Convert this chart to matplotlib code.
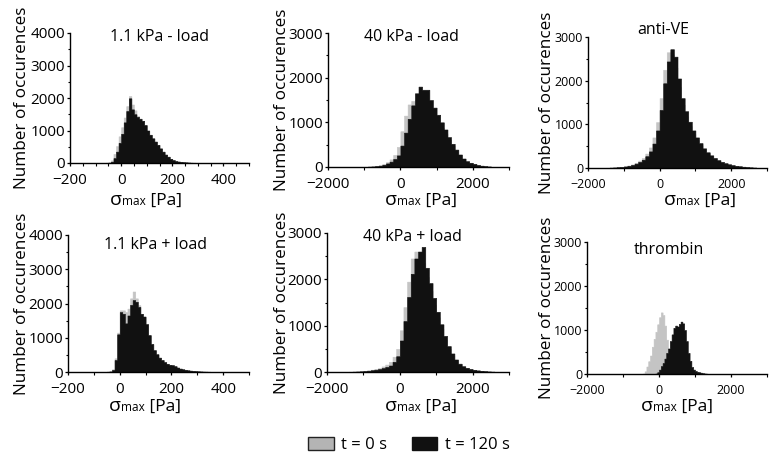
import numpy as np
import matplotlib
matplotlib.use("Agg")
import matplotlib.pyplot as plt
from matplotlib.patches import Patch
from matplotlib.offsetbox import TextArea, HPacker, AnchoredOffsetbox
from matplotlib.ticker import MultipleLocator

plt.rcParams['font.family'] = ['Open Sans', 'DejaVu Sans']

W, H = 776, 463
GRAY = '#c4c4c4'
BLACK = '#111111'

# ---- data: histogram counts (t = 0 s gray, t = 120 s black) ----
titles = ["1.1 kPa - load", "40 kPa - load", "anti-VE",
          "1.1 kPa + load", "40 kPa + load", "thrombin"]

# 1.1 kPa - load : bins of 10 Pa starting at -60 Pa
edges1_start, edges1_step = -60, 10
black1 = [5, 10, 40, 150, 350, 620, 900, 1250, 1600, 1990, 1650, 1500, 1420, 1360, 1300, 1170,
          1000, 870, 760, 660, 560, 450, 350, 260, 195, 130, 90, 60, 45, 35, 25, 20, 15, 10, 8, 5]
gray1 = [10, 20, 80, 280, 520, 820, 1100, 1400, 1750, 2060, 1800, 1620, 1450, 1370, 1290, 1150,
         980, 850, 740, 640, 540, 430, 330, 245, 180, 120, 85, 55, 42, 32, 22, 18, 13, 9, 7, 4]

# 40 kPa - load : bins of 100 Pa starting at -1000 Pa
edges2_start, edges2_step = -1000, 100
black2 = [5, 8, 12, 20, 30, 50, 80, 120, 180, 260, 480, 770, 1080, 1380, 1650, 1800, 1730, 1730,
          1500, 1330, 1170, 1000, 840, 670, 520, 390, 280, 190, 130, 95, 70, 45, 30, 20, 12]
gray2 = [5, 10, 15, 25, 40, 70, 110, 170, 270, 450, 800, 1150, 1400, 1480, 1500, 1450, 1380, 1300,
         1200, 1100, 1000, 880, 750, 610, 480, 360, 260, 180, 120, 90, 65, 42, 28, 18, 10]

# anti-VE : bins of 100 Pa starting at -1500 Pa
edges3_start, edges3_step = -1500, 100
black3 = [5, 8, 12, 18, 25, 35, 50, 70, 100, 140, 190, 270, 380, 560, 860, 1330, 1940, 2440, 2720,
          2550, 2050, 1600, 1300, 1060, 860, 700, 570, 450, 360, 290, 230, 180, 140, 110, 85, 65,
          50, 40, 30, 22, 15, 10]
gray3 = [6, 9, 14, 20, 28, 40, 58, 82, 120, 170, 230, 330, 470, 700, 1050, 1600, 2250, 2650, 2600,
         2300, 1850, 1450, 1180, 960, 780, 640, 520, 410, 330, 265, 210, 165, 128, 100, 78, 60,
         46, 36, 27, 20, 14, 9]

# 1.1 kPa + load : bins of 10 Pa starting at -60 Pa
edges4_start, edges4_step = -60, 10
black4 = [5, 8, 15, 60, 350, 1100, 1750, 1700, 1420, 1650, 1960, 2100, 2050, 1900, 1700, 1620,
          1400, 1080, 820, 640, 520, 420, 350, 290, 240, 210, 200, 170, 130, 100, 80, 65, 50, 40,
          32, 25, 20, 16, 12, 10, 8, 6, 5, 4, 3, 2]
gray4 = [6, 10, 20, 80, 400, 1150, 1800, 1800, 1750, 1850, 2150, 2350, 2150, 1950, 1690, 1600,
         1380, 1060, 800, 625, 505, 410, 340, 280, 232, 205, 192, 162, 124, 96, 76, 62, 48, 38,
         30, 24, 19, 15, 11, 9, 7, 5, 4, 3, 2, 1]

# 40 kPa + load : bins of 100 Pa starting at -1500 Pa
edges5_start, edges5_step = -1500, 100
black5 = [3, 5, 7, 10, 14, 20, 28, 38, 50, 65, 85, 110, 140, 220, 340, 680, 1100, 1620, 2120, 2450,
          2600, 2700, 2250, 1920, 1600, 1300, 1030, 780, 560, 400, 270, 180, 125, 90, 65, 48, 35,
          26, 18, 12, 8, 5]
gray5 = [4, 6, 9, 13, 18, 26, 36, 50, 66, 86, 120, 160, 220, 330, 500, 900, 1400, 1950, 2450, 2600,
         2550, 2350, 2050, 1750, 1450, 1180, 930, 700, 500, 350, 240, 160, 110, 80, 58, 42, 30,
         22, 15, 10, 6, 4]

# thrombin : bins of 50 Pa (gray from -500 Pa, black from -100 Pa)
gray6_start, gray6_step = -500, 50
gray6 = [3, 10, 60, 170, 290, 420, 620, 800, 960, 1130, 1290, 1400, 1340, 1100, 780, 480, 250,
         110, 50, 20, 10, 5]
black6_start, black6_step = -100, 50
black6 = [10, 40, 100, 180, 250, 350, 480, 580, 750, 900, 1050, 1100, 1080, 1140, 1190, 1150,
          1000, 750, 480, 300, 160, 100, 70, 50, 40, 30, 20, 12, 8]


def edges(start, step, counts):
    return start + step * np.arange(len(counts) + 1)


panels = [
    dict(gray=(gray1, edges1_start, edges1_step), black=(black1, edges1_start, edges1_step),
         xlim=(-200, 500), xmaj=200, xmin=50, ylim=4000, tsize=11,
         rect=(70, 249, 33, 163), title=(160, 37), ylab=-40, xlab=(146, 200)),
    dict(gray=(gray2, edges2_start, edges2_step), black=(black2, edges2_start, edges2_step),
         xlim=(-2000, 3000), xmaj=2000, xmin=1000, ylim=3000, tsize=11,
         rect=(328, 509, 33, 167), title=(411, 37), ylab=-38, xlab=(421, 200)),
    dict(gray=(gray3, edges3_start, edges3_step), black=(black3, edges3_start, edges3_step),
         xlim=(-2000, 3000), xmaj=2000, xmin=1000, ylim=3000, tsize=9,
         rect=(588, 767, 37, 168), title=(663, 30), ylab=-33, xlab=(700, 200)),
    dict(gray=(gray4, edges4_start, edges4_step), black=(black4, edges4_start, edges4_step),
         xlim=(-200, 500), xmaj=200, xmin=100, ylim=4000, tsize=11,
         rect=(68, 249, 235, 372), title=(155, 245), ylab=-38, xlab=(145, 406)),
    dict(gray=(gray5, edges5_start, edges5_step), black=(black5, edges5_start, edges5_step),
         xlim=(-2000, 3000), xmaj=2000, xmin=1000, ylim=3000, tsize=11,
         rect=(327, 509, 233, 372), title=(412, 237), ylab=-37, xlab=(421, 406)),
    dict(gray=(gray6, gray6_start, gray6_step), black=(black6, black6_start, black6_step),
         xlim=(-2000, 3000), xmaj=2000, xmin=1000, ylim=3000, tsize=9,
         rect=(587, 767, 242, 374), title=(669, 250), ylab=-32, xlab=(677, 406)),
]

fig = plt.figure(figsize=(W / 100, H / 100), dpi=100)

for p, title in zip(panels, titles):
    x0, x1, yt, yb = p['rect']
    ax = fig.add_axes([x0 / W, 1 - yb / H, (x1 - x0) / W, (yb - yt) / H])

    g, gs, gst = p['gray']
    b, bs, bst = p['black']
    for vals, start, step, col in [(g, gs, gst, GRAY), (b, bs, bst, BLACK)]:
        e = edges(start, step, vals)
        ax.fill_between(e, np.append(vals, vals[-1]), step='post', facecolor=col,
                        edgecolor=col, linewidth=0.4, snap=False)

    ax.set_xlim(*p['xlim'])
    ax.set_ylim(0, p['ylim'])
    ax.xaxis.set_major_locator(MultipleLocator(p['xmaj']))
    ax.xaxis.set_minor_locator(MultipleLocator(p['xmin']))
    ax.yaxis.set_major_locator(MultipleLocator(1000))
    ax.yaxis.set_minor_locator(MultipleLocator(500))

    for side in ['top', 'right']:
        ax.spines[side].set_visible(False)
    for side in ['left', 'bottom']:
        ax.spines[side].set_linewidth(1.0)
        ax.spines[side].set_zorder(3)
    ax.tick_params(which='major', direction='out', length=2.5, width=0.9,
                   labelsize=p['tsize'], pad=1)
    ax.tick_params(which='minor', direction='out', length=1.8, width=0.8)
    ax.tick_params(axis='x', which='major', pad=4.5)
    ax.set_facecolor('none')

    ax.set_ylabel("Number of occurences", fontsize=12.3)
    ax.yaxis.set_label_coords(p['ylab'] / (x1 - x0), 0.5)

    tx, ty = p['title']
    fig.text(tx / W, 1 - ty / H, title, ha='center', va='center', fontsize=11.5)

    # x label: sigma with small "max", then [Pa]
    parts = HPacker(children=[TextArea("σ", textprops=dict(size=14)),
                              TextArea("max", textprops=dict(size=8.5)),
                              TextArea(" [Pa]", textprops=dict(size=12.5))],
                    align="baseline", pad=0, sep=0)
    lx, ly = p['xlab']
    box = AnchoredOffsetbox(loc='center', child=parts, pad=0, borderpad=0, frameon=False,
                            bbox_to_anchor=(lx / W, 1 - ly / H),
                            bbox_transform=fig.transFigure)
    fig.add_artist(box)

handles = [Patch(facecolor='#b4b4b4', edgecolor='#222222', linewidth=1.0, label='t = 0 s'),
           Patch(facecolor=BLACK, edgecolor=BLACK, linewidth=1.0, label='t = 120 s')]
fig.legend(handles=handles, loc='center', bbox_to_anchor=(409 / W, 1 - 445 / H), ncol=2,
           frameon=False, fontsize=12, handlelength=1.55, handleheight=0.85,
           handletextpad=0.45, columnspacing=1.45, borderpad=0)

fig.savefig("out.png", dpi=100)
